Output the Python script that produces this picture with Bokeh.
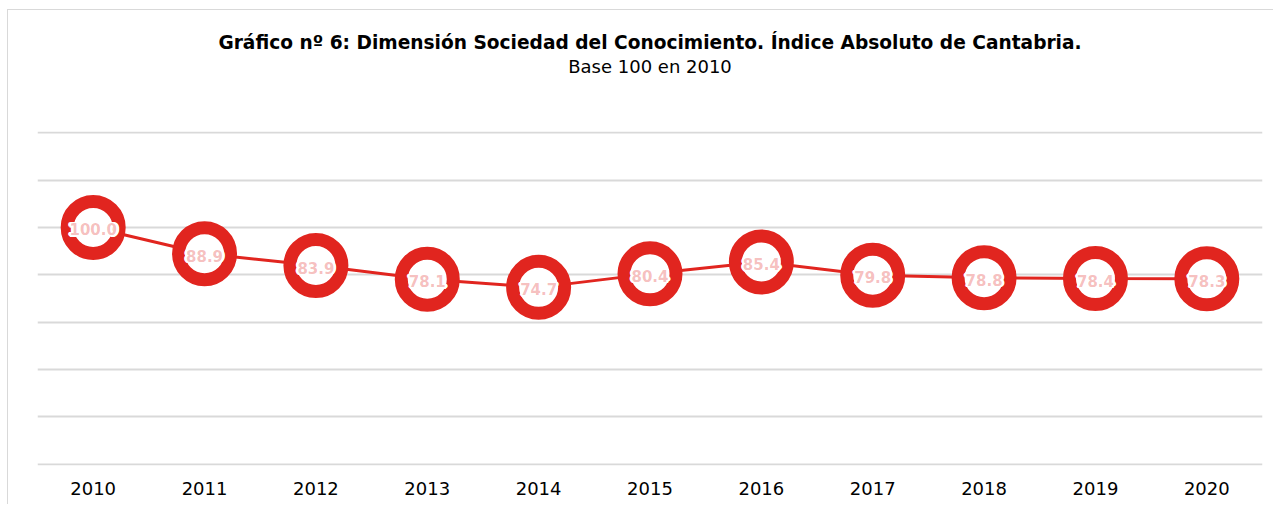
from bokeh.plotting import figure
from bokeh.models import ColumnDataSource, Title, Range1d, FactorRange, CategoricalAxis
from bokeh.embed import file_html
from bokeh.resources import INLINE
from bokeh.core.properties import value

years = ["2010", "2011", "2012", "2013", "2014", "2015", "2016", "2017", "2018", "2019", "2020"]
values = [100.0, 88.9, 83.9, 78.1, 74.7, 80.4, 85.4, 79.8, 78.8, 78.4, 78.3]
labels = [f"{v:.1f}" for v in values]
title_text = "Gráfico nº 6: Dimensión Sociedad del Conocimiento. Índice Absoluto de Cantabria."
subtitle_text = "Base 100 en 2010"

RED = "#E1251F"
FONT = "DejaVu Sans"

src = ColumnDataSource(dict(x=years, y=values, lab=labels))

p = figure(width=1266, height=495, x_range=FactorRange(*years), y_range=Range1d(-0.5, 140.5),
           output_backend="svg", toolbar_location=None, title=None,
           min_border_left=29, min_border_right=12, min_border_top=121, min_border_bottom=40)
p.styles = {"border-top": "1px solid #D9D9D9", "border-left": "1px solid #D9D9D9",
            "margin-left": "7px", "margin-top": "9px"}
p.outline_line_color = None
p.yaxis.visible = False
p.ygrid.ticker = [0, 20, 40, 60, 80, 100, 120, 140]
p.ygrid.grid_line_color = "#D9D9D9"
p.ygrid.grid_line_width = 2
p.xgrid.grid_line_color = None
p.xaxis.axis_line_color = None
p.xaxis.major_tick_line_color = None
p.xaxis.minor_tick_line_color = None
p.xaxis.major_tick_out = 0
p.xaxis.major_tick_in = 0
p.xaxis.major_label_text_font = FONT
p.xaxis.major_label_text_font_size = "18px"
p.xaxis.major_label_text_color = "#000000"
p.xaxis.major_label_standoff = 16

p.line("x", "y", source=src, line_color=RED, line_width=3)
p.scatter("x", "y", source=src, size=52, fill_color="white", line_color=RED, line_width=13)
for dx, dy in [(-1.5, 0), (1.5, 0), (0, -1.5), (0, 1.5), (-1, -1), (1, 1), (-1, 1), (1, -1)]:
    p.text("x", "y", text="lab", source=src, text_color="white", text_font=value(FONT),
           text_font_style="bold", text_font_size="16px", text_align="center",
           text_baseline="middle", x_offset=dx, y_offset=dy + 2)
p.text("x", "y", text="lab", source=src, text_color=RED, text_alpha=0.3, text_font=value(FONT),
       text_font_style="bold", text_font_size="15px", text_align="center",
       text_baseline="middle", y_offset=2)

# subtitle as the label of an invisible axis above the frame
sub_axis = CategoricalAxis(axis_label=subtitle_text, axis_line_color=None,
                           major_tick_line_color=None, minor_tick_line_color=None,
                           major_tick_in=0, major_tick_out=0,
                           major_label_text_font_size="0px", major_label_standoff=0,
                           axis_label_text_font=FONT, axis_label_text_font_size="18px",
                           axis_label_text_font_style="normal", axis_label_text_color="#000000",
                           axis_label_standoff=55)
p.add_layout(sub_axis, "above")
p.add_layout(Title(text=title_text, align="center", text_font=FONT, text_font_size="18.6px",
                   text_font_style="bold", text_color="#000000", standoff=0), "above")

open("out.html", "w").write(file_html(p, INLINE))
